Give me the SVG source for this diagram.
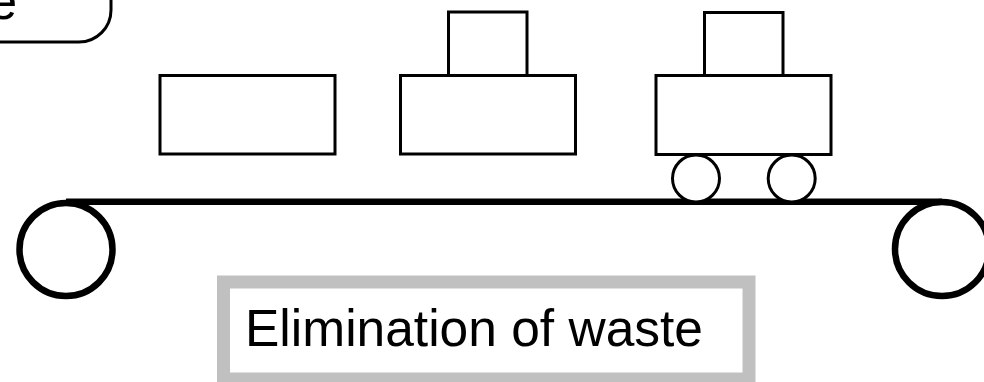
<svg xmlns="http://www.w3.org/2000/svg" width="984" height="382" viewBox="0 0 984 382">
  <style>
    .box { fill: #ffffff; stroke: #000000; stroke-width: 3; }
    .wheel { fill: #ffffff; stroke: #000000; stroke-width: 3; }
    .roller { fill: #ffffff; stroke: #000000; stroke-width: 6.5; }
    .belt { fill: none; stroke: #000000; stroke-width: 6.5; }
    .label { font-family: "Liberation Sans", Arial, sans-serif; fill: #000000; }
  </style>
  <rect width="984" height="382" fill="#ffffff"/>

  <!-- title panel, mostly outside the canvas -->
  <g id="title-panel">
    <rect x="-100" y="-100" width="211" height="142" rx="32" ry="32" fill="#ffffff" stroke="#000000" stroke-width="3"/>
    <text class="label" x="17" y="19" font-size="51" text-anchor="end">e</text>
  </g>

  <!-- conveyor: belt and rollers -->
  <g id="conveyor">
    <line class="belt" x1="66" y1="201.7" x2="942" y2="201.7"/>
    <circle class="roller" cx="66" cy="249.5" r="46.5"/>
    <circle class="roller" cx="942" cy="249" r="47"/>
  </g>

  <!-- stage 1: plain block -->
  <g id="stage-1">
    <rect class="box" x="160" y="75.5" width="175" height="78.5"/>
  </g>

  <!-- stage 2: block with top piece -->
  <g id="stage-2">
    <rect class="box" x="448.5" y="12" width="78.5" height="63.5"/>
    <rect class="box" x="400.5" y="75.5" width="175" height="78.5"/>
  </g>

  <!-- stage 3: block with top piece on wheels -->
  <g id="stage-3">
    <circle class="wheel" cx="696" cy="178.5" r="23.5"/>
    <circle class="wheel" cx="791.7" cy="178.5" r="23.5"/>
    <rect class="box" x="704.5" y="12.5" width="78.5" height="63"/>
    <rect class="box" x="656" y="75.5" width="175" height="79"/>
  </g>

  <!-- caption -->
  <g id="caption">
    <rect x="223.5" y="282" width="525.5" height="97" fill="#ffffff" stroke="#c0c0c0" stroke-width="13"/>
    <text class="label" x="245" y="345.5" font-size="51.5">Elimination of waste</text>
  </g>
</svg>
